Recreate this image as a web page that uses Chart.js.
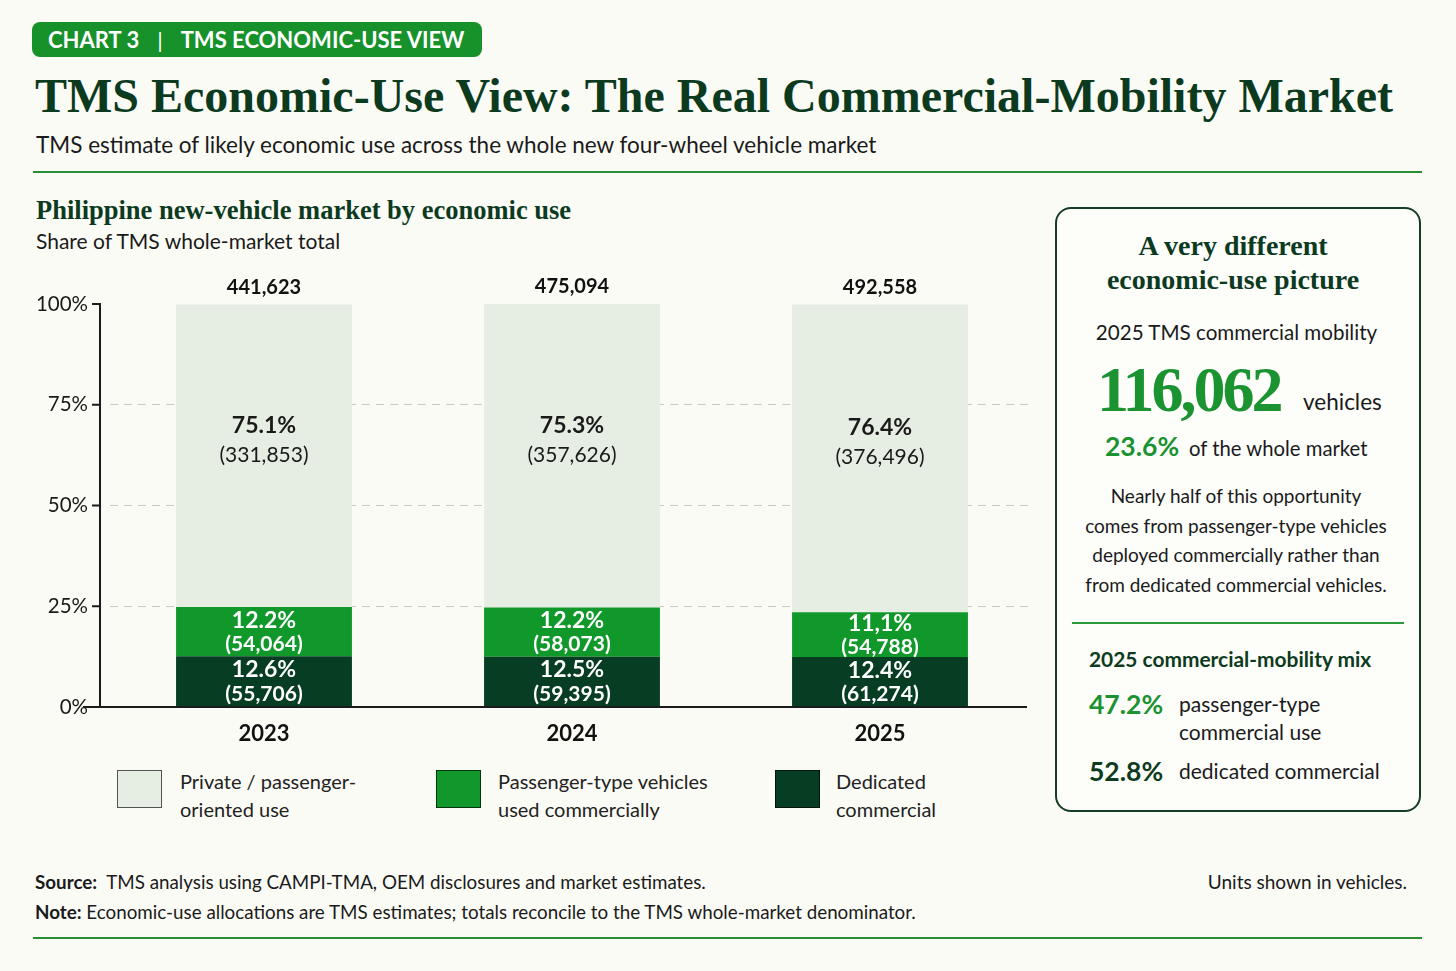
<!DOCTYPE html>
<html>
<head>
<meta charset="utf-8">
<script src="https://cdn.jsdelivr.net/npm/chart.js@4"></script>
<style>
  html, body { margin: 0; padding: 0; }
  body { width: 1456px; height: 971px; background: #fbfbf6; position: relative; overflow: hidden;
         font-family: Lato, "Open Sans", sans-serif; color: #1a1a1a; }
  .t { position: absolute; white-space: nowrap; }
  .serif { font-family: "Liberation Serif", "DejaVu Serif", serif; font-weight: bold; color: #0c3a1f; }
  .badge { position: absolute; left: 32px; top: 22px; width: 450px; height: 35px; border-radius: 8px;
           background: #17912a; color: #fff; font-weight: bold; font-size: 22px; line-height: 35px;
           padding-left: 16px; box-sizing: border-box; }
  .badge span { margin: 0 18px; font-weight: normal; }
  .rule { position: absolute; background: #2a8f35; }
  #chartBox { position: absolute; left: 0; top: 260px; width: 1045px; height: 500px; }
  .swatch { position: absolute; width: 45px; height: 38px; box-sizing: border-box; border: 1.5px solid rgba(0,0,0,0.65); }
  .leg { font-size: 20px; line-height: 28px; color: #222; }
  .panel { position: absolute; left: 1055px; top: 207px; width: 366px; height: 605px; box-sizing: border-box;
           border: 2px solid #163d24; border-radius: 16px; background: #fdfdfa; }
  .green { color: #1a9330; }
  .dark { color: #0d3b20; }
</style>
</head>
<body>
<div class="badge">CHART 3<span>|</span>TMS ECONOMIC-USE VIEW</div>
<div class="t serif" style="left:35px; top:67px; font-size:48px; line-height:58px;">TMS Economic-Use View: The Real Commercial-Mobility Market</div>
<div class="t" style="left:36px; top:130.5px; font-size:22.5px; line-height:27px;">TMS estimate of likely economic use across the whole new four-wheel vehicle market</div>
<div class="rule" style="left:33px; top:171px; width:1389px; height:2px;"></div>

<div class="t serif" style="left:36px; top:193.5px; font-size:26.5px; line-height:32px;">Philippine new-vehicle market by economic use</div>
<div class="t" style="left:36px; top:228px; font-size:21px; line-height:25px;">Share of TMS whole-market total</div>

<div id="chartBox"><canvas id="mixChart"></canvas></div>
<div id="legend"></div>

<div class="panel"></div>
<div class="t serif" style="left:1055px; width:356px; top:229px; font-size:28px; line-height:34px; text-align:center;">A very different<br>economic-use picture</div>
<div class="t" style="left:1055px; width:363px; top:320px; font-size:20.6px; line-height:24px; text-align:center;">2025 TMS commercial mobility</div>
<div class="t serif green" style="left:1097px; top:355px; font-size:64px; line-height:70px; letter-spacing:-3px; color:#1a9330;">116,062</div>
<div class="t" style="left:1303px; top:389px; font-size:22.5px; line-height:26px;">vehicles</div>
<div class="t green" style="left:1105px; top:431px; font-size:26.5px; line-height:30px; font-weight:bold;">23.6%</div>
<div class="t" style="left:1189px; top:436px; font-size:20.3px; line-height:24px;">of the whole market</div>
<div class="t" style="left:1055px; width:362px; top:481px; font-size:19px; line-height:29.5px; text-align:center;">Nearly half of this opportunity<br>comes from passenger-type vehicles<br>deployed commercially rather than<br>from dedicated commercial vehicles.</div>
<div class="rule" style="left:1072px; top:622px; width:332px; height:1.5px; background:#2a9a3a;"></div>
<div class="t dark" style="left:1089px; top:647px; font-size:20.9px; line-height:24px; font-weight:bold;">2025 commercial-mobility mix</div>
<div class="t green" style="left:1089px; top:689px; font-size:26.5px; line-height:30px; font-weight:bold;">47.2%</div>
<div class="t" style="left:1179px; top:690px; font-size:21px; line-height:28px;">passenger-type<br>commercial use</div>
<div class="t dark" style="left:1089px; top:756px; font-size:26.5px; line-height:30px; font-weight:bold;">52.8%</div>
<div class="t" style="left:1179px; top:759px; font-size:21px; line-height:24px;">dedicated commercial</div>

<div class="t" style="left:35px; top:869.5px; font-size:18.8px; line-height:23px;"><b>Source:</b>&nbsp; TMS analysis using CAMPI-TMA, OEM disclosures and market estimates.</div>
<div class="t" style="left:35px; top:899.5px; font-size:18.8px; line-height:23px;"><b>Note:</b> Economic-use allocations are TMS estimates; totals reconcile to the TMS whole-market denominator.</div>
<div class="t" style="right:49px; top:869.5px; font-size:19px; line-height:23px;">Units shown in vehicles.</div>
<div class="rule" style="left:33px; top:937px; width:1389px; height:2px;"></div>

<script>
// categories and totals
const years = ['2023', '2024', '2025'];
const totals = [441623, 475094, 492558];

// shares (% of whole market) and units per economic use
const privateShare = [75.1, 75.3, 76.4];
const privateUnits = [331853, 357626, 376496];
const privateLabels = ['75.1%', '75.3%', '76.4%'];

const paxCommShare = [12.2, 12.2, 11.1];
const paxCommUnits = [54064, 58073, 54788];
const paxCommLabels = ['12.2%', '12.2%', '11,1%'];

const dedicatedShare = [12.6, 12.5, 12.4];
const dedicatedUnits = [55706, 59395, 61274];
const dedicatedLabels = ['12.6%', '12.5%', '12.4%'];

const yTicks = [0, 25, 50, 75, 100];

const colPrivate = '#e6ede3';
const colPaxComm = '#10992a';
const colDedicated = '#073d22';

// legend (left to right)
const legendItems = [
    { lines: ['Private / passenger-', 'oriented use'], color: colPrivate, box: 117, text: 180 },
    { lines: ['Passenger-type vehicles', 'used commercially'], color: colPaxComm, box: 436, text: 498 },
    { lines: ['Dedicated', 'commercial'], color: colDedicated, box: 775, text: 836 }
];

const legendEl = document.getElementById('legend');
legendItems.forEach(item => {
    const sw = document.createElement('div');
    sw.className = 'swatch';
    sw.style.left = item.box + 'px';
    sw.style.top = '770px';
    sw.style.background = item.color;
    legendEl.appendChild(sw);
    const tx = document.createElement('div');
    tx.className = 't leg';
    tx.style.left = item.text + 'px';
    tx.style.top = '767px';
    tx.innerHTML = item.lines.join('<br>');
    legendEl.appendChild(tx);
});

Chart.defaults.font.family = 'Lato, "Open Sans", sans-serif';

const fmt = n => n.toLocaleString('en-US');

const overlay = {
    id: 'overlay',
    afterDatasetsDraw(chart) {
        const { ctx, chartArea: a, scales: { y } } = chart;
        ctx.save();

        // axis lines
        ctx.strokeStyle = '#1b1b1b';
        ctx.lineWidth = 2;
        const ax = a.left - 10;
        ctx.beginPath();
        ctx.moveTo(ax, a.top - 1);
        ctx.lineTo(ax, a.bottom);
        yTicks.forEach(v => {
            const py = y.getPixelForValue(v);
            ctx.moveTo(ax - 8, py);
            ctx.lineTo(ax, py);
        });
        ctx.moveTo(a.left - 27, a.bottom);
        ctx.lineTo(a.right - 7, a.bottom);
        ctx.stroke();

        // segment labels
        ctx.textAlign = 'center';
        ctx.textBaseline = 'middle';
        chart.data.datasets.forEach((ds, di) => {
            const meta = chart.getDatasetMeta(di);
            meta.data.forEach((bar, i) => {
                const top = Math.min(bar.y, bar.base);
                const h = Math.abs(bar.base - bar.y);
                if (ds.light) {
                    const y1 = top + h * 0.4;
                    ctx.fillStyle = '#1a1a1a';
                    ctx.font = 'bold 23px Lato';
                    ctx.fillText(ds.pctLabels[i], bar.x, y1);
                    ctx.font = '21px Lato';
                    ctx.fillText('(' + fmt(ds.units[i]) + ')', bar.x, y1 + 30);
                } else {
                    const cy = top + h / 2;
                    ctx.fillStyle = '#ffffff';
                    ctx.font = 'bold 23px Lato';
                    ctx.fillText(ds.pctLabels[i], bar.x, cy - 11.5);
                    ctx.font = 'bold 21px Lato';
                    ctx.fillText('(' + fmt(ds.units[i]) + ')', bar.x, cy + 12.5);
                }
            });
        });

        // totals above each stack
        const last = chart.getDatasetMeta(chart.data.datasets.length - 1);
        ctx.fillStyle = '#111';
        ctx.font = 'bold 20px Lato';
        last.data.forEach((bar, i) => {
            ctx.fillText(fmt(totals[i]), bar.x, bar.y - 17);
        });
        ctx.restore();
    }
};

const ctx = document.getElementById('mixChart').getContext('2d');
new Chart(ctx, {
    type: 'bar',
    data: {
        labels: years,
        datasets: [
            { label: 'Dedicated commercial', data: dedicatedShare, units: dedicatedUnits, pctLabels: dedicatedLabels, backgroundColor: colDedicated },
            { label: 'Passenger-type vehicles used commercially', data: paxCommShare, units: paxCommUnits, pctLabels: paxCommLabels, backgroundColor: colPaxComm },
            { label: 'Private / passenger-oriented use', data: privateShare, units: privateUnits, pctLabels: privateLabels, backgroundColor: colPrivate, light: true }
        ]
    },
    options: {
        responsive: true,
        maintainAspectRatio: false,
        animation: false,
        layout: { padding: { top: 44, right: 11, left: 0, bottom: 0 } },
        datasets: {
            bar: { barPercentage: 0.571, categoryPercentage: 1.0, borderWidth: 0 }
        },
        plugins: {
            legend: { display: false },
            tooltip: { enabled: false }
        },
        scales: {
            x: {
                stacked: true,
                grid: { display: false },
                border: { display: false },
                ticks: { color: '#111', font: { size: 22, weight: 'bold' }, padding: 6 },
                afterFit: scale => { scale.height = 53; }
            },
            y: {
                stacked: true,
                min: 0,
                max: 100,
                afterBuildTicks: scale => { scale.ticks = yTicks.map(v => ({ value: v })); },
                ticks: { color: '#1a1a1a', font: { size: 20.5 }, padding: 22, callback: v => v + '%' },
                grid: {
                    drawTicks: false,
                    lineWidth: 1,
                    color: c => (c.tick && c.tick.value > 0 && c.tick.value < 100) ? '#c9c9c4' : 'rgba(0,0,0,0)'
                },
                border: { display: false, dash: [8, 6] },
                afterFit: scale => { scale.width = 110; }
            }
        }
    },
    plugins: [overlay]
});
</script>
</body>
</html>
